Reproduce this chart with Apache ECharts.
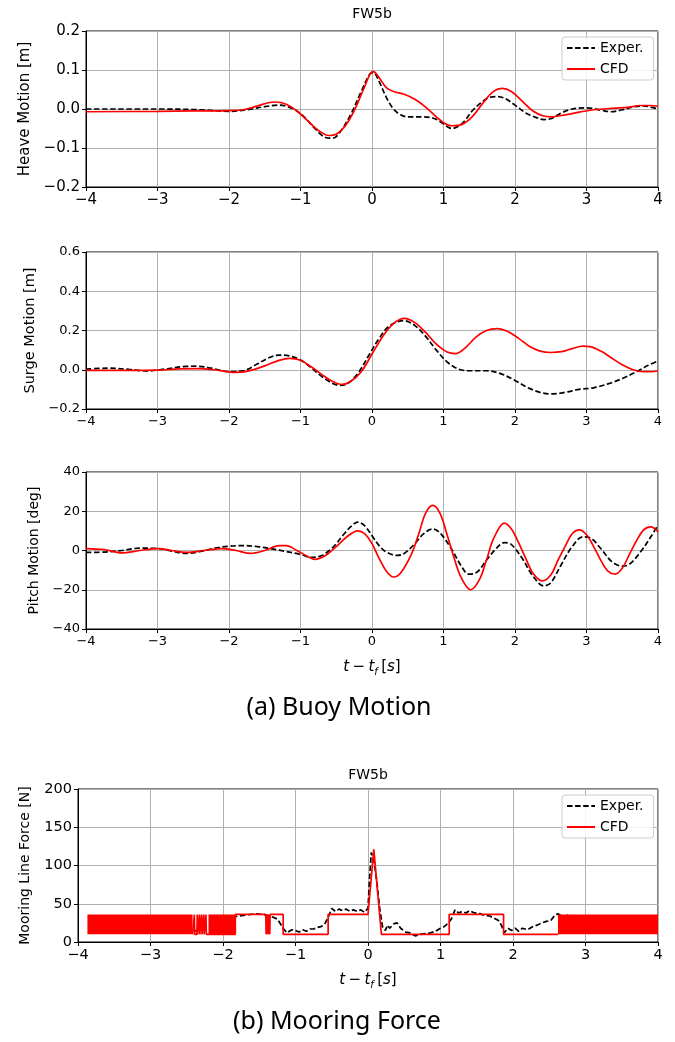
<!DOCTYPE html>
<html>
<head>
<meta charset="utf-8">
<script src="https://cdn.jsdelivr.net/npm/echarts@6/dist/echarts.min.js"></script>
<style>
  html, body { margin: 0; padding: 0; background: #fff; }
  #chart { width: 675px; height: 1042px; }
</style>
</head>
<body>
<div id="chart"></div>
<script>
// Time axis (t - t_f, seconds)
const timeTicks = [-4, -3, -2, -1, 0, 1, 2, 3, 4];

// Heave motion [m]
const heaveExper = [
  [-4.0, 0.000], [-3.0, 0.000], [-2.4, -0.002], [-2.0, -0.006], [-1.75, -0.002],
  [-1.5, 0.006], [-1.3, 0.010], [-1.1, 0.000], [-0.95, -0.020], [-0.8, -0.050],
  [-0.65, -0.073], [-0.55, -0.075], [-0.45, -0.060], [-0.3, -0.015], [-0.15, 0.045],
  [-0.03, 0.090], [0.02, 0.093], [0.1, 0.070], [0.2, 0.030], [0.3, 0.000],
  [0.4, -0.015], [0.5, -0.020], [0.7, -0.020], [0.85, -0.023], [0.95, -0.032],
  [1.05, -0.045], [1.12, -0.050], [1.2, -0.045], [1.3, -0.030], [1.4, -0.005],
  [1.55, 0.020], [1.65, 0.030], [1.75, 0.032], [1.85, 0.028], [2.0, 0.010],
  [2.15, -0.010], [2.3, -0.022], [2.4, -0.027], [2.5, -0.025], [2.65, -0.010],
  [2.8, 0.000], [3.0, 0.003], [3.2, -0.003], [3.35, -0.007], [3.5, -0.002],
  [3.65, 0.005], [3.8, 0.008], [3.9, 0.005], [4.0, 0.000]
];
const heaveCFD = [
  [-4.0, -0.007], [-3.0, -0.006], [-2.5, -0.005], [-2.0, -0.004], [-1.8, -0.002],
  [-1.6, 0.008], [-1.45, 0.016], [-1.35, 0.018], [-1.2, 0.012], [-1.05, -0.005],
  [-0.9, -0.030], [-0.75, -0.055], [-0.6, -0.068], [-0.5, -0.065], [-0.38, -0.045],
  [-0.25, -0.005], [-0.12, 0.050], [-0.02, 0.092], [0.02, 0.096], [0.1, 0.080],
  [0.2, 0.055], [0.3, 0.045], [0.45, 0.038], [0.6, 0.025], [0.75, 0.005],
  [0.9, -0.020], [1.0, -0.035], [1.12, -0.043], [1.25, -0.040], [1.4, -0.020],
  [1.55, 0.015], [1.7, 0.045], [1.82, 0.053], [1.95, 0.045], [2.1, 0.020],
  [2.25, -0.005], [2.4, -0.018], [2.5, -0.020], [2.7, -0.015], [2.9, -0.008],
  [3.1, -0.002], [3.4, 0.002], [3.6, 0.005], [3.75, 0.009], [3.9, 0.009], [4.0, 0.007]
];

// Surge motion [m]
const surgeExper = [
  [-4.0, 0.003], [-3.7, 0.008], [-3.4, 0.002], [-3.15, -0.006], [-2.9, 0.003],
  [-2.6, 0.017], [-2.45, 0.018], [-2.25, 0.008], [-2.0, -0.010], [-1.8, -0.005],
  [-1.6, 0.030], [-1.45, 0.060], [-1.3, 0.075], [-1.15, 0.070], [-1.0, 0.050],
  [-0.85, 0.010], [-0.7, -0.035], [-0.55, -0.070], [-0.45, -0.080], [-0.35, -0.072],
  [-0.2, -0.020], [-0.05, 0.070], [0.1, 0.160], [0.25, 0.225], [0.45, 0.250],
  [0.6, 0.225], [0.75, 0.170], [0.9, 0.100], [1.05, 0.040], [1.2, 0.005],
  [1.35, -0.005], [1.6, -0.005], [1.8, -0.020], [2.0, -0.055], [2.2, -0.095],
  [2.35, -0.115], [2.5, -0.123], [2.7, -0.115], [2.9, -0.100], [3.1, -0.092],
  [3.3, -0.072], [3.5, -0.045], [3.7, -0.010], [3.85, 0.020], [4.0, 0.045]
];
const surgeCFD = [
  [-4.0, -0.003], [-3.5, -0.003], [-3.0, -0.002], [-2.7, 0.004], [-2.45, 0.006],
  [-2.2, 0.000], [-1.95, -0.013], [-1.75, -0.008], [-1.5, 0.020], [-1.3, 0.048],
  [-1.15, 0.058], [-1.0, 0.048], [-0.85, 0.015], [-0.7, -0.025], [-0.55, -0.060],
  [-0.42, -0.075], [-0.3, -0.060], [-0.15, -0.010], [0.0, 0.080], [0.15, 0.170],
  [0.3, 0.235], [0.45, 0.262], [0.6, 0.240], [0.75, 0.190], [0.9, 0.130],
  [1.05, 0.090], [1.17, 0.082], [1.3, 0.110], [1.45, 0.165], [1.6, 0.200],
  [1.75, 0.210], [1.9, 0.195], [2.05, 0.160], [2.2, 0.120], [2.35, 0.095],
  [2.5, 0.088], [2.65, 0.092], [2.8, 0.108], [2.95, 0.120], [3.05, 0.118],
  [3.2, 0.095], [3.35, 0.060], [3.5, 0.025], [3.65, 0.000], [3.8, -0.010],
  [3.9, -0.010], [4.0, -0.005]
];

// Pitch motion [deg]
const pitchExper = [
  [-4.0, -1.0], [-3.75, -0.8], [-3.5, 0.0], [-3.25, 1.2], [-3.0, 1.0],
  [-2.8, -0.3], [-2.6, -1.5], [-2.4, -0.5], [-2.2, 1.2], [-2.0, 2.2],
  [-1.8, 2.5], [-1.6, 2.0], [-1.4, 0.8], [-1.2, -0.5], [-1.0, -2.0],
  [-0.85, -3.5], [-0.7, -2.5], [-0.55, 1.5], [-0.4, 8.0], [-0.3, 12.0],
  [-0.2, 14.5], [-0.1, 12.5], [0.0, 7.5], [0.1, 2.5], [0.2, -0.8],
  [0.35, -2.5], [0.45, -1.5], [0.6, 3.5], [0.72, 8.5], [0.85, 11.0],
  [0.95, 9.0], [1.1, 1.5], [1.25, -8.0], [1.35, -12.0], [1.45, -11.5],
  [1.6, -5.0], [1.75, 1.5], [1.85, 4.0], [1.95, 3.0], [2.1, -4.0],
  [2.25, -13.0], [2.4, -18.0], [2.5, -16.5], [2.65, -7.0], [2.8, 2.0],
  [2.95, 7.0], [3.05, 6.5], [3.2, 1.0], [3.35, -5.5], [3.5, -8.0],
  [3.6, -7.0], [3.75, -1.0], [3.9, 7.0], [4.0, 13.0]
];
const pitchCFD = [
  [-4.0, 1.0], [-3.75, 0.5], [-3.5, -1.2], [-3.25, 0.0], [-3.0, 1.0],
  [-2.8, 0.0], [-2.6, -1.0], [-2.35, 0.0], [-2.1, 1.0], [-1.9, 0.0],
  [-1.7, -1.5], [-1.5, 0.0], [-1.3, 2.5], [-1.2, 2.5], [-1.05, 0.0],
  [-0.9, -3.0], [-0.8, -4.5], [-0.65, -2.5], [-0.5, 2.0], [-0.35, 7.0],
  [-0.2, 10.0], [-0.1, 8.5], [0.0, 3.5], [0.1, -4.0], [0.2, -10.5],
  [0.3, -13.5], [0.4, -11.5], [0.55, -2.0], [0.65, 8.0], [0.75, 19.0],
  [0.85, 23.0], [0.95, 19.0], [1.05, 8.0], [1.15, -4.0], [1.25, -14.0],
  [1.38, -20.0], [1.5, -15.0], [1.6, -5.0], [1.7, 6.0], [1.85, 14.0],
  [1.95, 11.0], [2.05, 4.0], [2.15, -4.0], [2.25, -11.5], [2.38, -15.5],
  [2.5, -12.5], [2.6, -5.0], [2.7, 2.0], [2.8, 8.5], [2.9, 10.5],
  [3.0, 8.0], [3.1, 2.0], [3.2, -5.0], [3.3, -10.5], [3.4, -12.0],
  [3.5, -9.0], [3.6, -2.0], [3.7, 5.0], [3.8, 10.5], [3.9, 12.0], [4.0, 9.5]
];

// Mooring line force [N]
const forceExper = [
  [-2.4, 14], [-2.2, 20], [-2.0, 28], [-1.85, 33], [-1.7, 35], [-1.55, 37],
  [-1.45, 36], [-1.35, 34], [-1.25, 30], [-1.17, 18], [-1.12, 12], [-1.05, 16],
  [-1.0, 15], [-0.95, 13], [-0.9, 16], [-0.85, 14], [-0.8, 17], [-0.75, 17],
  [-0.7, 19], [-0.65, 20], [-0.6, 23], [-0.55, 32], [-0.5, 44], [-0.45, 40],
  [-0.4, 43], [-0.35, 41], [-0.3, 43], [-0.25, 40], [-0.2, 42], [-0.15, 40],
  [-0.1, 42], [-0.05, 39], [0.0, 44], [0.02, 80], [0.045, 117], [0.08, 108],
  [0.12, 80], [0.16, 45], [0.2, 20], [0.24, 15], [0.27, 22], [0.3, 18],
  [0.36, 24], [0.4, 25], [0.45, 18], [0.52, 13], [0.58, 12], [0.65, 8],
  [0.72, 10], [0.79, 11], [0.86, 12], [0.93, 14], [1.0, 18], [1.05, 20],
  [1.1, 24], [1.15, 30], [1.2, 42], [1.25, 38], [1.3, 40], [1.35, 38],
  [1.4, 41], [1.47, 38], [1.55, 37], [1.6, 35], [1.68, 34], [1.74, 31],
  [1.8, 28], [1.84, 22], [1.88, 12], [1.93, 18], [1.98, 15], [2.03, 18],
  [2.08, 14], [2.13, 18], [2.2, 16], [2.27, 20], [2.33, 22], [2.4, 25],
  [2.46, 27], [2.52, 28], [2.57, 34], [2.62, 37], [2.68, 33], [2.75, 35],
  [2.9, 30], [3.2, 30], [3.6, 28], [4.0, 30]
];
// CFD force: piecewise steps between slack (10 N) and taut (36 N) plus the snap peak
const forceCFD = [
  [-2.42, 10],
  [-2.40, 10], [-2.395, 36], [-2.39, 10],
  [-2.36, 10], [-2.355, 36], [-2.35, 10],
  [-2.33, 10], [-2.325, 36], [-2.32, 10],
  [-2.30, 10], [-2.295, 36], [-2.29, 10],
  [-2.27, 10], [-2.265, 36], [-2.26, 10],
  [-2.24, 10], [-2.235, 36], [-2.23, 10],
  [-2.21, 10], [-2.20, 10], [-1.83, 10], [-1.83, 36],
  [-1.41, 36], [-1.405, 10], [-1.40, 36], [-1.385, 36], [-1.38, 10],
  [-1.375, 36], [-1.36, 36], [-1.355, 10], [-1.35, 36],
  [-1.17, 36], [-1.17, 10], [-0.55, 10], [-0.55, 36], [0.0, 36],
  [0.08, 121], [0.185, 10], [1.12, 10], [1.12, 36], [1.87, 36],
  [1.87, 10], [2.62, 10]
];
// CFD force intervals of fast slack/taut chatter: [tStart, tEnd, low, high]
const forceCFDChatter = [
  [-3.87, -2.42, 10, 36],
  [-2.20, -1.83, 10, 36],
  [2.62, 4.0, 10, 36]
];

const RED = '#ff0000';
const BLACK = '#000000';
const GRID_COLOR = '#b0b0b0';
const FONT = 'DejaVu Sans';

function fmt(d) {
  return function (v) {
    const s = Math.abs(v).toFixed(d);
    return (v < -1e-9 ? '\u2212' : '') + s;
  };
}

const panels = [
  { left: 86, top: 31, width: 572, height: 156, ymin: -0.2, ymax: 0.2, yint: 0.1, dec: 1,
    yname: 'Heave Motion [m]', nameGap: 50, tickSize: 15, nameSize: 15, xname: false },
  { left: 86, top: 252, width: 572, height: 157, ymin: -0.2, ymax: 0.6, yint: 0.2, dec: 1,
    yname: 'Surge Motion [m]', nameGap: 44, tickSize: 13, nameSize: 14.5, xname: false },
  { left: 86, top: 472, width: 572, height: 157, ymin: -40, ymax: 40, yint: 20, dec: 0,
    yname: 'Pitch Motion [deg]', nameGap: 38, tickSize: 13, nameSize: 14, xname: true },
  { left: 78, top: 789, width: 580, height: 153, ymin: 0, ymax: 200, yint: 50, dec: 0,
    yname: 'Mooring Line Force [N]', nameGap: 46, tickSize: 14.5, nameSize: 14, xname: true }
];

const xNameRich = {
  i: { fontStyle: 'italic', fontSize: 15, fontFamily: FONT, color: '#000', verticalAlign: 'middle', lineHeight: 20 },
  n: { fontSize: 15, fontFamily: FONT, color: '#000', verticalAlign: 'middle', lineHeight: 20 },
  sub: { fontStyle: 'italic', fontSize: 10, fontFamily: FONT, color: '#000', verticalAlign: 'bottom', lineHeight: 12 }
};

const grids = panels.map(p => ({
  left: p.left, top: p.top, width: p.width, height: p.height,
  show: true, borderColor: '#000', borderWidth: 1, backgroundColor: 'transparent',
  containLabel: false
}));

const xAxes = panels.map((p, i) => ({
  gridIndex: i, type: 'value', min: timeTicks[0], max: timeTicks[timeTicks.length - 1], interval: 1,
  axisLine: { show: true, onZero: false, lineStyle: { color: '#000', width: 1 } },
  axisTick: { show: true, inside: false, length: 4, lineStyle: { color: '#000', width: 1 } },
  axisLabel: { show: true, fontSize: p.tickSize, fontFamily: FONT, color: '#000', margin: 6,
    showMinLabel: true, showMaxLabel: true, formatter: fmt(0) },
  splitLine: { show: true, lineStyle: { color: GRID_COLOR, width: 1 } },
  name: p.xname ? '{i|t} {n|\u2212} {i|t}{sub|f} {n|[}{i|s}{n|]}' : '',
  nameLocation: 'middle', nameGap: 28,
  nameTextStyle: { rich: xNameRich }
}));

const yAxes = panels.map((p, i) => ({
  gridIndex: i, type: 'value', min: p.ymin, max: p.ymax, interval: p.yint,
  axisLine: { show: true, onZero: false, lineStyle: { color: '#000', width: 1 } },
  axisTick: { show: true, inside: false, length: 4, lineStyle: { color: '#000', width: 1 } },
  axisLabel: { show: true, fontSize: p.tickSize, fontFamily: FONT, color: '#000', margin: 6,
    showMinLabel: true, showMaxLabel: true, formatter: fmt(p.dec) },
  splitLine: { show: true, lineStyle: { color: GRID_COLOR, width: 1 } },
  name: p.yname, nameLocation: 'middle', nameRotate: 90, nameGap: p.nameGap,
  nameTextStyle: { fontSize: p.nameSize, fontFamily: FONT, color: '#000' }
}));

function exper(data, i) {
  return {
    name: 'Exper.', type: 'line', xAxisIndex: i, yAxisIndex: i, data: data,
    smooth: i < 3 ? 0.35 : false, symbol: 'none', showSymbol: false, z: 3,
    lineStyle: { color: BLACK, width: 1.7, type: [5.5, 2.6] },
    itemStyle: { color: BLACK }, animation: false
  };
}
function cfd(data, i) {
  return {
    name: 'CFD', type: 'line', xAxisIndex: i, yAxisIndex: i, data: data,
    smooth: i < 3 ? 0.35 : false, symbol: 'none', showSymbol: false, z: 4,
    lineStyle: { color: RED, width: 1.7 },
    itemStyle: { color: RED }, animation: false
  };
}

const series = [
  exper(heaveExper, 0), cfd(heaveCFD, 0),
  exper(surgeExper, 1), cfd(surgeCFD, 1),
  exper(pitchExper, 2), cfd(pitchCFD, 2),
  exper(forceExper, 3), cfd(forceCFD, 3),
  {
    name: 'CFD chatter', type: 'custom', xAxisIndex: 3, yAxisIndex: 3, z: 4,
    data: forceCFDChatter, animation: false, silent: true,
    renderItem: function (params, api) {
      const p0 = api.coord([api.value(0), api.value(3)]);
      const p1 = api.coord([api.value(1), api.value(2)]);
      return {
        type: 'rect',
        shape: { x: p0[0], y: p0[1], width: p1[0] - p0[0], height: p1[1] - p0[1] },
        style: { fill: RED }
      };
    },
    encode: { x: [0, 1], y: [2, 3] }
  }
];

function legendAt(top) {
  return {
    data: ['Exper.', 'CFD'], orient: 'vertical', left: 562, top: top,
    itemWidth: 28, itemHeight: 14, itemGap: 7, padding: [4, 10, 4, 4],
    backgroundColor: 'rgba(255,255,255,0.85)', borderColor: '#cccccc', borderWidth: 1, borderRadius: 3,
    textStyle: { fontSize: 14, fontFamily: FONT, color: '#000' },
    itemStyle: { opacity: 0, color: 'transparent', borderWidth: 0 },
    selectedMode: false
  };
}

const graphic = [
  { type: 'text', x: 372, y: 14, style: { text: 'FW5b', fill: '#000', fontSize: 14, fontFamily: FONT, align: 'center', verticalAlign: 'middle' } },
  { type: 'text', x: 368, y: 775, style: { text: 'FW5b', fill: '#000', fontSize: 14, fontFamily: FONT, align: 'center', verticalAlign: 'middle' } },
  { type: 'text', x: 339, y: 708, style: { text: '(a) Buoy Motion', fill: '#000', fontSize: 25, fontFamily: 'Noto Sans', align: 'center', verticalAlign: 'middle' } },
  { type: 'text', x: 337, y: 1022, style: { text: '(b) Mooring Force', fill: '#000', fontSize: 25, fontFamily: 'Noto Sans', align: 'center', verticalAlign: 'middle' } }
];

const chart = echarts.init(document.getElementById('chart'), null, { renderer: 'canvas' });
chart.setOption({
  animation: false,
  backgroundColor: '#fff',
  grid: grids,
  xAxis: xAxes,
  yAxis: yAxes,
  legend: [legendAt(37), legendAt(795)],
  graphic: graphic,
  series: series
});
</script>
</body>
</html>
